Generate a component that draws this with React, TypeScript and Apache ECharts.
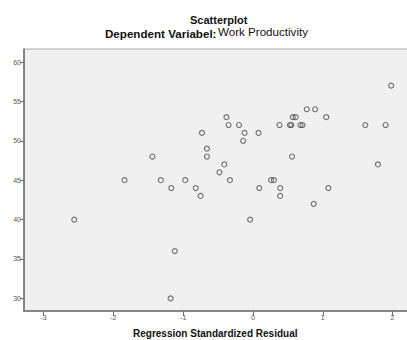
import React, { useEffect, useRef } from "react";
import * as echarts from "echarts";

const residuals = [
  -2.56, -1.84, -0.38, -0.35, -0.2, -0.73, -0.12, 0.08, -0.14, -0.66, -0.66, -1.44, -0.41, -0.48, -1.32,
  -0.97, -0.33, -1.17, -0.82, 0.09, -0.75, -0.04, -1.12, -1.18, 1.98, 0.77, 0.89, 0.57, 0.61, 1.05, 0.38,
  0.53, 0.55, 0.68, 0.71, 1.61, 1.9, 0.56, 1.79, 0.26, 0.3, 0.39, 1.08, 0.39, 0.87,
];
const productivity = [
  40, 45, 53, 52, 52, 51, 51, 51, 50, 49, 48, 48, 47, 46, 45,
  45, 45, 44, 44, 44, 43, 40, 36, 30, 57, 54, 54, 53, 53, 53, 52,
  52, 52, 52, 52, 52, 52, 48, 47, 45, 45, 44, 44, 43, 42,
];
const xTicks = [-3, -2, -1, 0, 1, 2];
const yTicks = [30, 35, 40, 45, 50, 55, 60];
const titleMain = "Scatterplot";
const titleDepLabel = "Dependent Variabel:";
const titleDepValue = "Work Productivity";
const xAxisTitle = "Regression Standardized Residual";

export default function App() {
  const ref = useRef<HTMLDivElement>(null);
  useEffect(() => {
    if (!ref.current) return;
    const chart = echarts.init(ref.current, undefined, { renderer: "svg" });
    const data = residuals.map((x, i) => [x, productivity[i]]);
    const font = "Liberation Sans, Arial, sans-serif";
    chart.setOption({
      animation: false,
      backgroundColor: "#ffffff",
      textStyle: { fontFamily: font },
      grid: {
        left: 24,
        top: 49,
        width: 396.5,
        height: 262,
        show: true,
        backgroundColor: "#f0f0f0",
        borderColor: "#a8a8a8",
        borderWidth: 1,
      },
      xAxis: {
        type: "value",
        min: -3.28,
        max: 2.4,
        splitLine: { show: false },
        axisLine: { show: true, onZero: false, lineStyle: { color: "#6e6e6e", width: 1.5 } },
        axisTick: { show: true, length: 5, customValues: xTicks, lineStyle: { color: "#6e6e6e" } },
        axisLabel: {
          customValues: xTicks,
          fontSize: 7,
          color: "#555555",
          margin: 3,
          fontFamily: font,
        },
      },
      yAxis: {
        type: "value",
        min: 28.4,
        max: 61.65,
        splitLine: { show: false },
        axisLine: { show: true, onZero: false, lineStyle: { color: "#6e6e6e", width: 1.5 } },
        axisTick: { show: true, length: 4, customValues: yTicks, lineStyle: { color: "#6e6e6e" } },
        axisLabel: {
          customValues: yTicks,
          fontSize: 7,
          color: "#555555",
          margin: 3,
          fontFamily: font,
        },
      },
      series: [
        {
          type: "scatter",
          data,
          symbol: "circle",
          symbolSize: 5,
          itemStyle: { color: "transparent", borderColor: "#4a4a4a", borderWidth: 1.1 },
        },
      ],
      graphic: [
        {
          type: "text",
          left: 190,
          top: 14,
          style: { text: titleMain, font: `bold 11px ${font}`, fill: "#111" },
        },
        {
          type: "text",
          left: 105,
          top: 27,
          style: { text: titleDepLabel, font: `bold 11.6px ${font}`, fill: "#111" },
        },
        {
          type: "text",
          left: 218,
          top: 25,
          style: { text: titleDepValue, font: `11.6px ${font}`, fill: "#111" },
        },
        {
          type: "text",
          left: 133,
          top: 328,
          style: { text: xAxisTitle, font: `bold 10px ${font}`, fill: "#111" },
        },
      ],
    });
    return () => chart.dispose();
  }, []);
  return (
    <div style={{ position: "fixed", left: 0, top: 0, width: 407, height: 340, overflow: "hidden" }}>
      <div ref={ref} style={{ width: 430, height: 340 }} />
    </div>
  );
}
